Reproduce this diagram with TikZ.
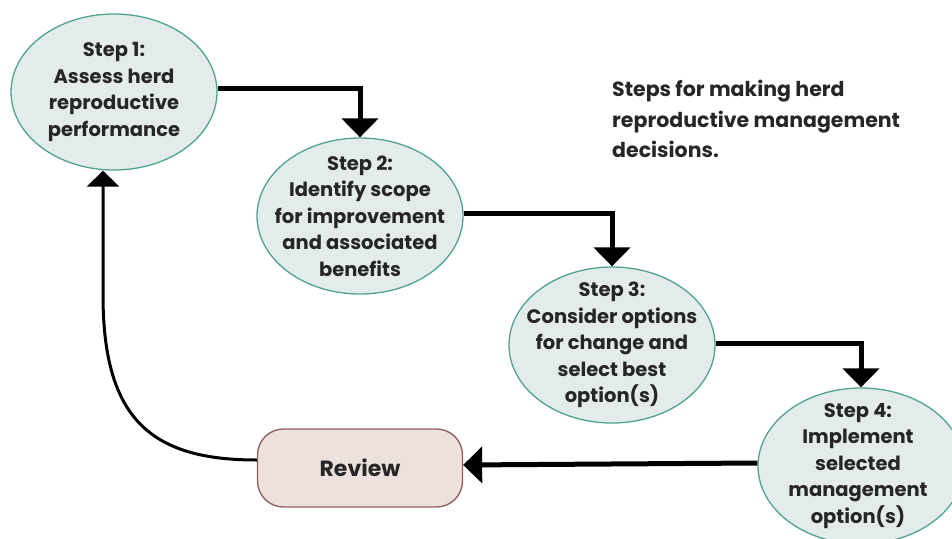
\documentclass[tikz,border=0pt]{standalone}
\usepackage{fontspec}
\setmainfont{Poppins}
\usetikzlibrary{shapes.geometric,arrows.meta}
\definecolor{efill}{HTML}{E4ECEB}
\definecolor{edraw}{HTML}{4FA38F}
\definecolor{rfill}{HTML}{EDE1DD}
\definecolor{rdraw}{HTML}{8E5C5C}
\definecolor{txt}{HTML}{262626}
\tikzset{
  stepbox/.style={ellipse, draw=edraw, fill=efill, line width=1.3pt, minimum width=206pt, minimum height=156pt, inner sep=0pt},
  steptext/.style={inner sep=0pt, align=center, text=txt, font=\bfseries\fontsize{19.5}{26.5}\selectfont},
  reviewbox/.style={rounded corners=26pt, draw=rdraw, fill=rfill, line width=1.3pt, minimum width=205pt, minimum height=78pt, inner sep=0pt, text=txt, font=\bfseries\fontsize{22}{26}\selectfont},
  flow/.style={line width=5pt, -{Triangle[width=36pt,length=19pt]}},
  back/.style={line width=3pt, -{Triangle[width=32pt,length=16pt]}},
}
\begin{document}
\begin{tikzpicture}[x=1pt,y=-1pt]
\useasboundingbox (0,0) rectangle (952,538);
\node[stepbox] (s1) at (114,92) {};
\node[stepbox] (s2) at (360,216) {};
\node[stepbox] (s3) at (612,345) {};
\node[stepbox] (s4) at (861,466) {};
\node[steptext] (t1) at (s1) {Step 1:\\Assess herd\\reproductive\\performance};
\node[steptext] (t2) at (s2) {Step 2:\\Identify scope\\for improvement\\and associated\\benefits};
\node[steptext] (t3) at (s3) {Step 3:\\Consider options\\for change and\\select best\\option(s)};
\node[steptext] (t4) at ([xshift=-3pt]s4) {Step 4:\\Implement\\selected\\management\\option(s)};
\node[reviewbox] (rv) at (360,468) {Review};
\node[anchor=north west, align=left, inner sep=0pt, text=txt, font=\bfseries\fontsize{20.5}{30.5}\selectfont] (title) at (612,80) {Steps for making herd\\reproductive management\\decisions.};
\draw[flow] ([yshift=4pt]s1.east) -| (s2.north);
\draw[flow] ([yshift=3pt]s2.east) -| (s3.north);
\draw[flow] ([yshift=2pt]s3.east) -| (s4.north);
\draw[flow] ([yshift=3pt]s4.west) -- ([yshift=3pt]rv.east);
\coordinate (bend) at (103,295);
\draw[back] ([yshift=8pt]rv.west) .. controls +(-105,0) and +(0,125) .. (bend) -- ([xshift=-11pt]s1.south);
\end{tikzpicture}
\end{document}
